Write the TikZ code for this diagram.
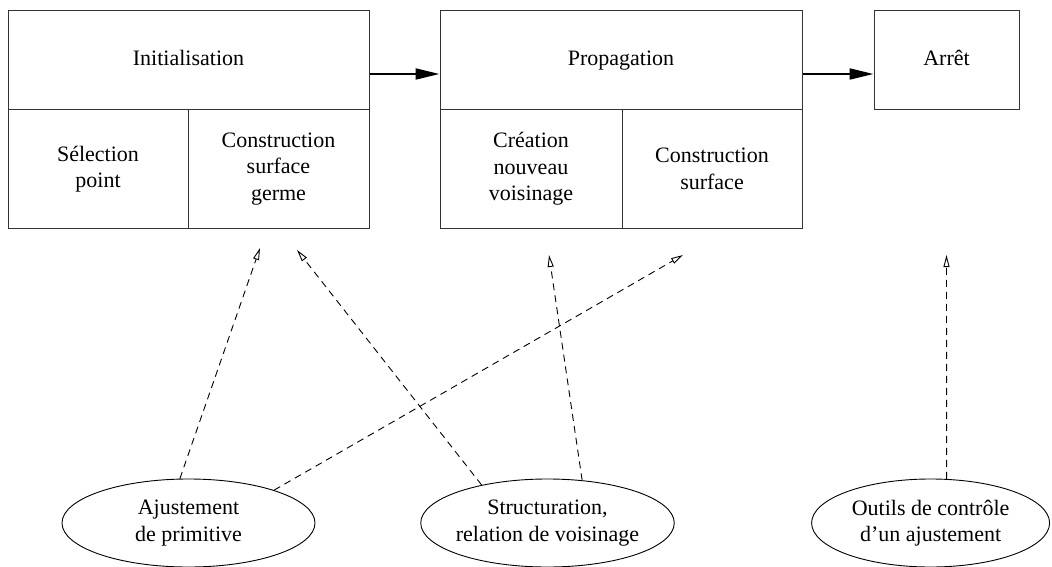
\documentclass[tikz,border=0pt]{standalone}
\usepackage{fontspec}
\setmainfont{Liberation Serif}
\usetikzlibrary{arrows.meta,shapes.geometric}
\begin{document}
\begin{tikzpicture}[x=1pt,y=-1pt,
  every node/.style={font=\fontsize{22}{26.5}\selectfont, align=center},
  cell/.style={draw=black!80, line width=1pt, rectangle, inner sep=0pt},
  title/.style={cell, text height=15pt, text depth=5pt},
  oval/.style={draw=black, line width=0.9pt, ellipse, inner sep=0pt, inner xsep=-2pt, minimum height=88pt},
  flow/.style={line width=2pt, -{Triangle[length=24pt,width=11pt]}},
  dep/.style={line width=0.9pt, dash pattern=on 7pt off 5pt, -{Triangle[open,length=12pt,width=6pt,line width=0.9pt]}}]
\useasboundingbox (0,0) rectangle (1052,567);
% Initialisation block
\node[title, minimum width=361pt, minimum height=99pt] (init) at (188.5,60.5) {Initialisation};
\node[cell, minimum width=180pt, minimum height=118pt] (sel) at (98,169) {Sélection\\point};
\node[cell, minimum width=181pt, minimum height=118pt] (germ) at (278.5,169) {Construction\\surface\\germe};
% Propagation block
\node[title, minimum width=362pt, minimum height=99pt] (prop) at (621,60.5) {Propagation};
\node[cell, minimum width=182pt, minimum height=118pt] (crea) at (531,169) {Création\\nouveau\\voisinage};
\node[cell, minimum width=180pt, minimum height=118pt] (csurf) at (712,169) {Construction\\surface};
% Arret
\node[title, minimum width=145pt, minimum height=99pt] (arret) at (946.5,60.5) {Arrêt};
% flow arrows
\draw[flow] ([yshift=-13.5pt]init.east) -- ([yshift=-13.5pt]prop.west);
\draw[flow] ([yshift=-13.5pt]prop.east) -- ([yshift=-13.5pt]arret.west);
% ellipses
\node[oval, minimum width=253pt] (e1) at (188.5,523) {Ajustement\\de primitive};
\node[oval, minimum width=253pt] (e2) at (547.5,523) {Structuration,\\relation de voisinage};
\node[oval, minimum width=238pt] (e3) at (930.6,523) {Outils de contrôle\\d’un ajustement};
% free ends of dashed connectors
\coordinate (t1) at (260,248);
\coordinate (t2) at (297,250);
\coordinate (t3) at (549,255);
\coordinate (t4) at (683,255);
\coordinate (t5) at (946.5,255);
\draw[dep] (e1.101) -- (t1);
\draw[dep] (e1.21) -- (t4);
\draw[dep] (e2.150) -- (t2);
\draw[dep] (e2.51) -- (t3);
\draw[dep] (e3.70) -- (t5);
\end{tikzpicture}
\end{document}
